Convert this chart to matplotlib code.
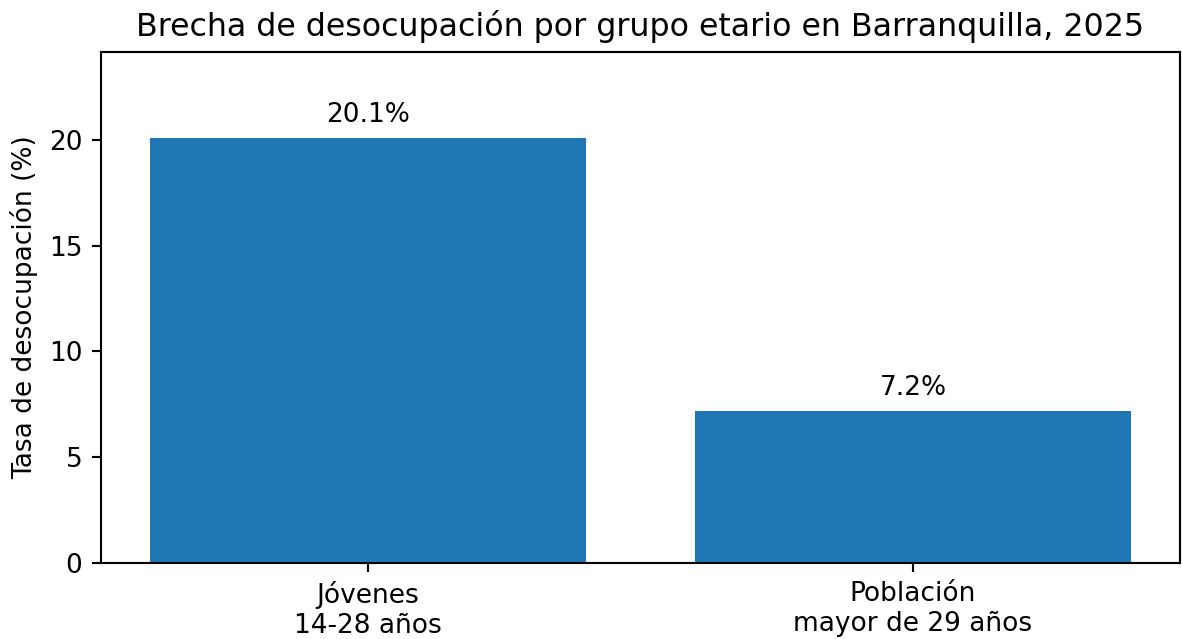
import matplotlib
matplotlib.use("Agg")
import matplotlib.pyplot as plt

# ---- データ ----
categories = ["Jóvenes\n14-28 años", "Población\nmayor de 29 años"]
values = [20.1, 7.2]
labels = ["20.1%", "7.2%"]

DPI = 190
fig = plt.figure(figsize=(1182/DPI, 639/DPI), dpi=DPI)
ax = fig.add_axes([0.0854, 0.119, 0.9129, 0.7996])

bars = ax.bar(categories, values, color="#1f77b4", width=0.8)
for b, lab in zip(bars, labels):
    ax.text(b.get_x() + b.get_width()/2, b.get_height() + 0.45, lab,
            ha="center", va="bottom", fontsize=10)

ax.set_ylim(0, 24.15)
ax.set_yticks([0, 5, 10, 15, 20])
ax.set_ylabel("Tasa de desocupación (%)")
ax.set_title("Brecha de desocupación por grupo etario en Barranquilla, 2025", fontsize=12)

fig.savefig("out.png", dpi=DPI)
